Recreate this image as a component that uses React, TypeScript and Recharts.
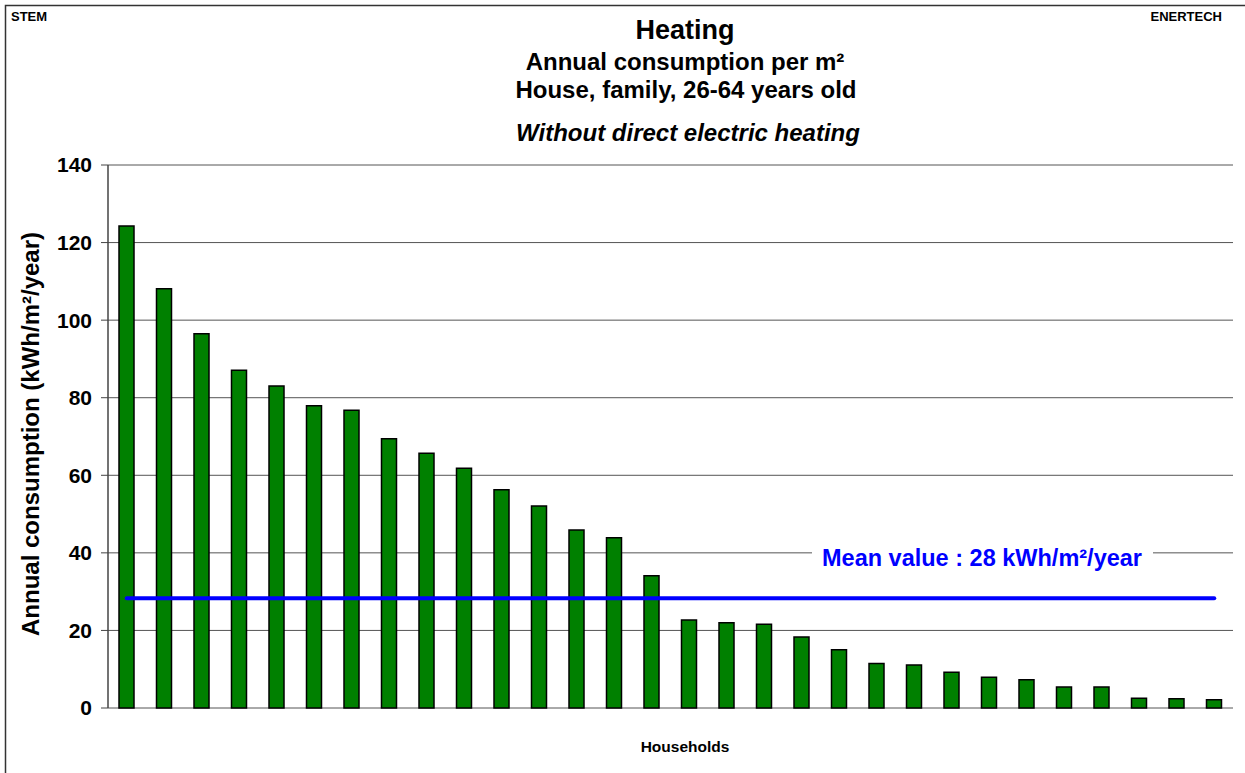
import { Bar, CartesianGrid, ComposedChart, Line, XAxis, YAxis } from "recharts";

// household ids, sorted by consumption
const HOUSEHOLDS = Array.from({ length: 30 }, (_, i) => `H${i + 1}`);

// kWh/m²/year
const CONSUMPTION = [
  124.3, 108.1, 96.5, 87.1, 83.0, 77.9, 76.8, 69.4, 65.7, 61.8, 56.3, 52.1, 45.9, 43.9, 34.1,
  22.7, 22.0, 21.6, 18.3, 15.0, 11.5, 11.1, 9.2, 7.9, 7.3, 5.4, 5.4, 2.5, 2.4, 2.1,
];

const MEAN_VALUE = 28.3;
const MEAN_LABEL = "Mean value : 28 kWh/m²/year";
const Y_TICKS = [0, 20, 40, 60, 80, 100, 120, 140];

const data = HOUSEHOLDS.map((id, i) => ({ id, value: CONSUMPTION[i], mean: MEAN_VALUE }));

const FONT = "Arial, 'Liberation Sans', Helvetica, sans-serif";
const W = 1245;
const H = 773;

export default function App() {
  return (
    <div style={{ position: "absolute", left: 0, top: 0, width: W, height: H, background: "#fff", fontFamily: FONT }}>
      <ComposedChart
        width={W}
        height={H}
        data={data}
        margin={{ top: 165, right: 12, bottom: 65, left: 8 }}
        style={{ position: "absolute", left: 0, top: 0 }}
      >
        <CartesianGrid vertical={false} stroke="#555" strokeWidth={1} />
        <XAxis dataKey="id" height={0} tick={false} tickLine={false} axisLine={{ stroke: "#444", strokeWidth: 1.5 }} />
        <YAxis
          width={100}
          domain={[0, 140]}
          ticks={Y_TICKS}
          interval={0}
          tickSize={7}
          tickMargin={9}
          tickLine={{ stroke: "#444" }}
          axisLine={{ stroke: "#444", strokeWidth: 1.5 }}
          tick={{ fill: "#000", fontSize: 21, fontWeight: 700, fontFamily: FONT }}
        />
        <YAxis
          yAxisId="frame"
          orientation="right"
          width={0}
          domain={[0, 140]}
          tick={false}
          tickLine={false}
          axisLine={{ stroke: "#777" }}
        />
        <Bar dataKey="value" barSize={15} fill="#008000" stroke="#000" strokeWidth={1.5} isAnimationActive={false} />
        <Line
          dataKey="mean"
          stroke="#0000ff"
          strokeWidth={4}
          strokeLinecap="round"
          dot={false}
          activeDot={false}
          isAnimationActive={false}
        />
      </ComposedChart>

      <svg width={W} height={H} style={{ position: "absolute", left: 0, top: 0, pointerEvents: "none" }}>
        <rect x={5.5} y={5.5} width={W + 10} height={H + 10} fill="none" stroke="#333" strokeWidth={1.5} />
        <text x={11} y={21} fontSize={13} fontWeight={700} fontFamily={FONT}>STEM</text>
        <text x={1222} y={21} fontSize={13} fontWeight={700} fontFamily={FONT} textAnchor="end">ENERTECH</text>

        <g fontFamily={FONT} fontWeight={700} textAnchor="middle" fill="#000">
          <text x={685} y={39} fontSize={27}>Heating</text>
          <text x={685} y={70} fontSize={24}>Annual consumption per m²</text>
          <text x={686} y={98} fontSize={24}>House, family, 26-64 years old</text>
          <text x={688} y={141} fontSize={24} fontStyle="italic">Without direct electric heating</text>
          <text x={685} y={752} fontSize={15.5}>Households</text>
          <text x={0} y={0} fontSize={24} transform="translate(39 434) rotate(-90)">
            Annual consumption (kWh/m²/year)
          </text>
        </g>

        <rect x={812} y={543} width={341} height={30} fill="#fff" />
        <text x={982} y={566} fontFamily={FONT} fontWeight={700} fontSize={23.5} fill="#0000ff" textAnchor="middle">
          {MEAN_LABEL}
        </text>
      </svg>
    </div>
  );
}
